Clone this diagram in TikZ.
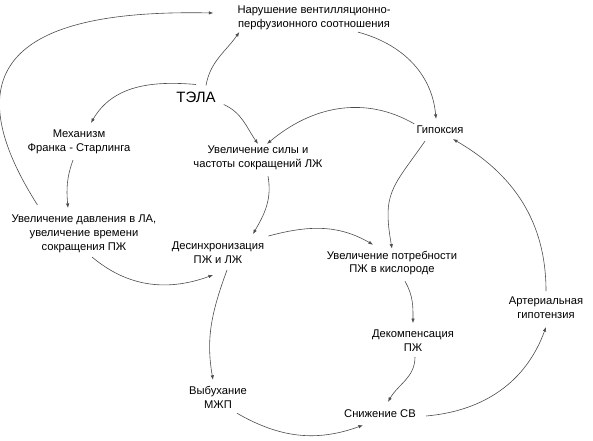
\documentclass[tikz,border=0pt]{standalone}
\usepackage{fontspec}
\setmainfont{Liberation Sans}
\usetikzlibrary{arrows.meta}
\begin{document}
\begin{tikzpicture}[x=1pt,y=1pt,
  lbl/.style={align=center, inner sep=2pt, font=\fontsize{11.2}{13.8}\selectfont},
  link/.style={-{Latex[length=4.5pt,width=3.5pt]}, draw=black!70, line width=0.6pt}]
\useasboundingbox (0,0) rectangle (593,-440);
\node [lbl, font=\fontsize{15}{18}\selectfont] (tela) at (196,-97) {ТЭЛА};
\node [lbl] (narush) at (314,-18) {Нарушение вентилляционно-\\перфузионного соотношения};
\node [lbl] (gipox) at (440,-130) {Гипоксия};
\node [lbl] (mech) at (79,-142) {Механизм\\Франка - Старлинга};
\node [lbl] (sila) at (258,-158) {Увеличение силы и\\частоты сокращений ЛЖ};
\node [lbl] (davl) at (84,-234) {Увеличение давления в ЛА,\\увеличение времени\\сокращения ПЖ};
\node [lbl] (desinh) at (218,-253) {Десинхронизация\\ПЖ и ЛЖ};
\node [lbl] (potreb) at (392,-263) {Увеличение потребности\\ПЖ в кислороде};
\node [lbl] (arter) at (546,-308) {Артериальная\\гипотензия};
\node [lbl] (dekomp) at (413,-341) {Декомпенсация\\ПЖ};
\node [lbl] (vybuh) at (218,-397) {Выбухание\\МЖП};
\node [lbl] (snizh) at (380,-414) {Снижение СВ};
\draw [link] ([xshift=10pt,yshift=4pt]tela.north) to[out=80,in=235] ([xshift=4pt]narush.south west);
\draw [link] ([yshift=5pt]tela.north) to[out=175,in=60] ([xshift=12pt,yshift=5pt]mech.north);
\draw [link] ([xshift=6pt]tela.south east) to[out=-25,in=125] (sila.north);
\draw [link] ([xshift=28pt,yshift=8pt]davl.north west) .. controls +(-105,165) and +(-150,3) .. ([xshift=-22pt,yshift=5pt]narush.west);
\draw [link] ([xshift=44pt]narush.south) to[out=-15,in=95] ([xshift=-4pt,yshift=5pt]gipox.north);
\draw [link] (gipox.north west) to[out=150,in=40] ([xshift=9pt]sila.north);
\draw [link] ([xshift=-15pt,yshift=-5pt]gipox.south) to[out=235,in=100,looseness=1.3] (potreb.north);
\draw [link] ([yshift=4pt]arter.north) to[out=90,in=-30] ([xshift=13pt,yshift=-3pt]gipox.south);
\draw [link] ([xshift=-6pt,yshift=-4pt]mech.south) to[out=250,in=95] ([xshift=-16pt,yshift=5pt]davl.north);
\draw [link] ([xshift=10pt,yshift=-4pt]sila.south) to[out=-80,in=60] ([xshift=35pt,yshift=6pt]desinh.north);
\draw [link] ([xshift=8pt,yshift=-2pt]davl.south) to[out=-40,in=200] ([xshift=-5pt,yshift=-9pt]desinh.south);
\draw [link] ([xshift=2pt,yshift=4pt]desinh.north east) to[out=15,in=150] ([xshift=-19pt,yshift=4pt]potreb.north);
\draw [link] ([xshift=9pt,yshift=-4pt]desinh.south) to[out=250,in=100] ([xshift=-5pt,yshift=4pt]vybuh.north);
\draw [link] ([xshift=13pt,yshift=-4pt]potreb.south) to[out=-60,in=90] ([yshift=5pt]dekomp.north);
\draw [link] ([xshift=2pt,yshift=-3pt]dekomp.south) to[out=-90,in=60] ([xshift=8pt,yshift=6pt]snizh.north);
\draw [link] ([xshift=19pt,yshift=-3pt]vybuh.south) to[out=-30,in=200] ([xshift=-17pt,yshift=-5pt]snizh.south);
\draw [link] ([xshift=8pt,yshift=-2pt]snizh.east) to[out=5,in=250] ([yshift=-6pt]arter.south);
\end{tikzpicture}
\end{document}
